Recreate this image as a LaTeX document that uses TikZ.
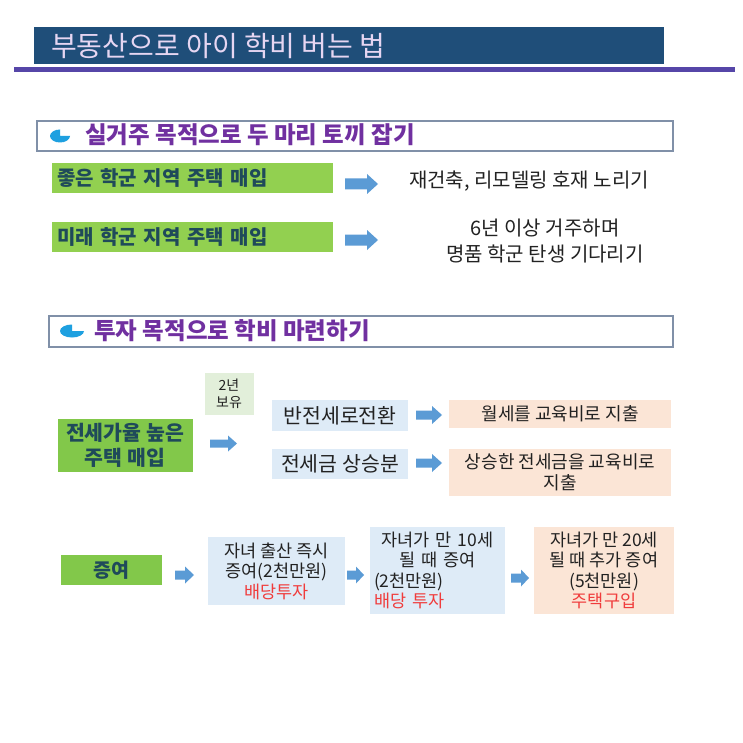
\documentclass[tikz,border=0pt]{standalone}
\usepackage{fontspec}
\setmainfont{Noto Sans CJK KR}
\definecolor{titlebg}{HTML}{1F4E79}
\definecolor{titletx}{HTML}{E6D6F2}
\definecolor{purpline}{HTML}{5646A8}
\definecolor{hdrline}{HTML}{8090A8}
\definecolor{hdrtx}{HTML}{7030A0}
\definecolor{icon}{HTML}{1EA0E0}
\definecolor{gr}{HTML}{92D050}
\definecolor{grd}{HTML}{82C84A}
\definecolor{gtext}{HTML}{1F4A5A}
\definecolor{lgreen}{HTML}{E2EFDA}
\definecolor{lblue}{HTML}{DEEBF7}
\definecolor{peach}{HTML}{FBE5D6}
\definecolor{arr}{HTML}{5B9BD5}
\definecolor{redtx}{HTML}{F03C3C}
\definecolor{bodytx}{HTML}{222222}
\newcommand\blockarr[6]{%
  \fill[arr] (#1,#3-#4) -- (#2-#6,#3-#4) -- (#2-#6,#3-#5) -- (#2,#3) -- (#2-#6,#3+#5) -- (#2-#6,#3+#4) -- (#1,#3+#4) -- cycle;}
\newcommand\pieicon[3]{%
  \fill[icon] (#1,#2) -- (#1+#3,#2) arc[start angle=0,end angle=270,x radius=#3,y radius=6.5] -- cycle;}
\tikzset{
  greenbox/.style={fill=gr, inner sep=0pt, text=gtext, font=\bfseries\fontsize{20}{24}\selectfont},
  bluebox/.style={fill=lblue, inner sep=0pt, text=bodytx, font=\fontsize{17.5}{20.5}\selectfont, align=center},
  peachbox/.style={fill=peach, inner sep=0pt, text=bodytx, font=\fontsize{18}{21}\selectfont, align=center},
  hdrbox/.style={draw=hdrline, line width=1.2pt, fill=white, inner sep=0pt},
  hdrtext/.style={text=hdrtx, font=\bfseries\fontsize{23.5}{26}\selectfont, anchor=west, inner sep=0pt},
  plain/.style={text=bodytx, font=\fontsize{20}{26}\selectfont, align=center, inner sep=0pt}
}
\begin{document}
\begin{tikzpicture}[x=1pt,y=-1pt]
\useasboundingbox (0,0) rectangle (743,743);
\fill[white] (0,0) rectangle (743,743);
% title
\node[fill=titlebg, minimum width=630pt, minimum height=37pt, inner sep=0pt] (title) at (349,45.5) {};
\node[anchor=west, inner sep=0pt, text=titletx, font=\fontsize{28}{30}\selectfont] (titletext) at (51,45.5) {부동산으로 아이 학비 버는 법};
\fill[purpline] (14,67) rectangle (735,72);
% section 1
\node[hdrbox, minimum width=636pt, minimum height=30pt] (h1) at (355,136) {};
\pieicon{60}{136}{10}
\node[hdrtext] (h1t) at (85,135) {실거주 목적으로 두 마리 토끼 잡기};
\node[greenbox, minimum width=281pt, minimum height=30pt, text width=271pt, align=left] (g1) at (192.5,178) {좋은 학군 지역 주택 매입};
\blockarr{345}{378}{184}{5.5}{10}{11}
\node[plain] (t1) at (529,181) {재건축, 리모델링 호재 노리기};
\node[greenbox, minimum width=281pt, minimum height=30pt, text width=271pt, align=left] (g2) at (192.5,237) {미래 학군 지역 주택 매입};
\blockarr{345}{378}{240}{5.5}{10}{11}
\node[plain] (t2) at (545,241) {6년 이상 거주하며\\명품 학군 탄생 기다리기};
% section 2
\node[hdrbox, minimum width=624pt, minimum height=31pt] (h2) at (361,331.5) {};
\pieicon{72}{331}{12}
\node[hdrtext] (h2t) at (94,331) {투자 목적으로 학비 마련하기};
\node[fill=lgreen, minimum width=49pt, minimum height=42pt, inner sep=0pt, align=center, text=bodytx, font=\fontsize{14}{17}\selectfont] (hold) at (229,394) {2년\\보유};
\node[greenbox, fill=grd, minimum width=135pt, minimum height=53pt, align=center, font=\bfseries\fontsize{20.5}{25}\selectfont] (g3) at (125,445.5) {전세가율 높은\\주택 매입};
\blockarr{210}{237}{443.5}{4}{8}{9}
\node[bluebox, minimum width=136pt, minimum height=31pt, font=\fontsize{20.5}{22}\selectfont] (ba) at (340,415.5) {반전세로전환};
\node[bluebox, minimum width=136pt, minimum height=30pt, font=\fontsize{20.5}{22}\selectfont] (bb) at (340,464) {전세금 상승분};
\blockarr{416}{442}{415}{4.5}{9}{10}
\blockarr{416}{442}{463}{4.5}{9}{10}
\node[peachbox, minimum width=222pt, minimum height=28pt] (pa) at (560,414) {월세를 교육비로 지출};
\node[peachbox, minimum width=222pt, minimum height=47pt] (pb) at (560,472.5) {상승한 전세금을 교육비로\\지출};
% bottom row
\node[greenbox, fill=grd, minimum width=101pt, minimum height=30pt, font=\bfseries\fontsize{19.5}{22}\selectfont] (g4) at (111.5,570) {증여};
\blockarr{175}{194}{575}{4.5}{8.5}{9}
\node[bluebox, minimum width=137pt, minimum height=68pt] (bc) at (276.5,571) {자녀 출산 즉시\\증여(2천만원)\\\textcolor{redtx}{배당투자}};
\blockarr{347}{364}{575}{4.5}{8.5}{8}
\node[bluebox, minimum width=135pt, minimum height=87pt, text width=127pt, align=left] (bd) at (437.5,570.5) {\makebox[\linewidth]{자녀가 만 10세}\\\makebox[\linewidth]{될 때 증여}\\(2천만원)\\\textcolor{redtx}{배당 투자}};
\blockarr{511}{529}{578}{4.5}{8.5}{8}
\node[peachbox, minimum width=140pt, minimum height=87pt, font=\fontsize{17.5}{20.5}\selectfont] (pc) at (604,570.5) {자녀가 만 20세\\될 때 추가 증여\\(5천만원)\\\textcolor{redtx}{주택구입}};
\end{tikzpicture}
\end{document}
